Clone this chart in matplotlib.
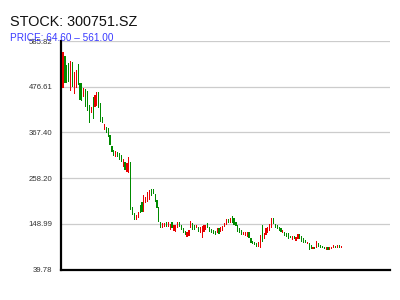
import numpy as np
import matplotlib
matplotlib.use("Agg")
import matplotlib.pyplot as plt

plt.rcParams['font.family'] = ['Liberation Sans', 'DejaVu Sans']

ticker = "300751.SZ"

opens = [473.4, 549.9, 528.4, 533.2, 466.3, 535.6, 459.1, 473.4, 530.8, 485.4,
         485.4, 451.9, 471.0, 466.3, 432.8, 413.7, 451.9, 428.0, 430.4, 463.9,
         437.6, 404.1, 373.0, 380.2, 377.8, 361.1, 334.8, 325.2, 308.5, 320.4,
         318.0, 313.3, 284.6, 296.5, 272.6, 270.2, 296.5, 188.9, 174.6, 157.8,
         162.6, 193.7, 200.9, 177.0, 198.5, 200.9, 205.7, 231.9, 231.9, 220.0,
         205.7, 188.9, 153.0, 138.7, 141.1, 153.0, 141.1, 133.9, 153.0, 131.5,
         129.1, 138.7, 153.0, 145.9, 138.7, 131.5, 117.2, 119.6, 138.7, 150.6,
         145.9, 138.7, 141.1, 126.7, 114.8, 129.1, 133.9, 150.6, 141.1, 136.3,
         133.9, 131.5, 126.7, 138.7, 129.1, 131.5, 141.1, 145.9, 160.2, 150.6,
         167.4, 162.6, 153.0, 145.9, 138.7, 133.9, 122.0, 119.6, 117.2, 129.1,
         114.8, 107.6, 105.2, 102.8, 93.3, 90.9, 145.9, 112.4, 122.0, 126.7,
         131.5, 138.7, 162.6, 148.2, 145.9, 141.1, 138.7, 126.7, 129.1, 126.7,
         126.7, 119.6, 110.0, 119.6, 107.6, 112.4, 124.4, 119.6, 114.8, 110.0,
         100.5, 102.8, 98.1, 88.5, 93.3, 90.9, 102.8, 98.1, 95.7, 93.3,
         86.1, 93.3, 86.1, 88.5, 90.9, 95.7, 90.9, 98.1, 90.9]

closes = [559.5, 485.4, 485.4, 487.8, 538.0, 475.8, 511.7, 516.5, 480.6, 444.7,
          442.4, 473.4, 428.0, 418.4, 389.8, 428.0, 399.3, 456.7, 463.9, 425.6,
          392.1, 389.8, 387.4, 365.8, 356.3, 337.2, 320.4, 310.9, 322.8, 308.5,
          301.3, 296.5, 303.7, 277.4, 294.1, 308.5, 181.7, 169.8, 157.8, 169.8,
          177.0, 174.6, 177.0, 217.6, 212.8, 224.8, 229.6, 215.2, 220.0, 200.9,
          186.5, 153.0, 138.7, 150.6, 150.6, 141.1, 153.0, 148.2, 138.7, 145.9,
          145.9, 153.0, 141.1, 133.9, 126.7, 122.0, 129.1, 133.9, 155.4, 133.9,
          133.9, 145.9, 129.1, 141.1, 143.5, 145.9, 145.9, 138.7, 129.1, 126.7,
          124.4, 122.0, 138.7, 124.4, 141.1, 143.5, 150.6, 160.2, 150.6, 162.6,
          150.6, 145.9, 143.5, 129.1, 126.7, 122.0, 129.1, 129.1, 129.1, 114.8,
          102.8, 100.5, 98.1, 93.3, 105.2, 122.0, 105.2, 126.7, 138.7, 141.1,
          148.2, 162.6, 148.2, 138.7, 136.3, 131.5, 129.1, 133.9, 119.6, 117.2,
          112.4, 114.8, 119.6, 112.4, 117.2, 124.4, 112.4, 105.2, 102.8, 102.8,
          105.2, 86.1, 88.5, 93.3, 88.5, 107.6, 93.3, 90.9, 90.9, 88.5,
          93.3, 86.1, 93.3, 93.3, 98.1, 90.9, 98.1, 90.9, 95.7]

# session extremes (wicks are too thin to show at this size)
day_high = [561.00] + [max(o, c) for o, c in zip(opens[1:], closes[1:])]
day_low = [min(o, c) for o, c in zip(opens, closes)]
day_low[131] = 64.60

o = np.array(opens)
c = np.array(closes)
hi = np.array(day_high)
lo = np.array(day_low)
n = len(o)
x = np.arange(n)

pmin, pmax = lo.min(), hi.max()
pad = 0.05 * (pmax - pmin)
ymin, ymax = pmin - pad, pmax + pad

fig = plt.figure(figsize=(4, 3), dpi=100)
ax = fig.add_axes([61/400, 1 - 269.5/300, 329/400, (269.5 - 41)/300])

up = c >= o
colors = np.where(up, '#e80000', '#008a00')
ax.bar(x, np.abs(c - o), bottom=np.minimum(o, c), width=0.62,
       color=colors, linewidth=0, antialiased=False, zorder=3)

ax.set_xlim(-1.1, n - 1 + 26)
ax.set_ylim(ymin, ymax)
yt = np.linspace(ymin, ymax, 6)
ax.set_yticks(yt)
ax.set_yticklabels([f"{v:.2f}" for v in yt], fontsize=5.6, color='#333333')
ax.set_xticks([])
ax.tick_params(axis='y', length=0, pad=6)
ax.grid(axis='y', color='#cccccc', linewidth=0.9, zorder=0)
for s in ['top', 'right']:
    ax.spines[s].set_visible(False)
ax.spines['left'].set_linewidth(1.6)
ax.spines['bottom'].set_linewidth(1.6)
ax.spines['left'].set_color('black')
ax.spines['bottom'].set_color('black')

fig.text(10/400, 1 - 26/300, f"STOCK: {ticker}", fontsize=10.4,
         color='#111111', va='baseline', ha='left')
fig.text(10/400, 1 - 41/300, f"PRICE: {pmin:.2f} \u2013 {pmax:.2f}",
         fontsize=7.2, color='#3a3aff', va='baseline', ha='left', zorder=5)

fig.savefig("out.png", dpi=100)
